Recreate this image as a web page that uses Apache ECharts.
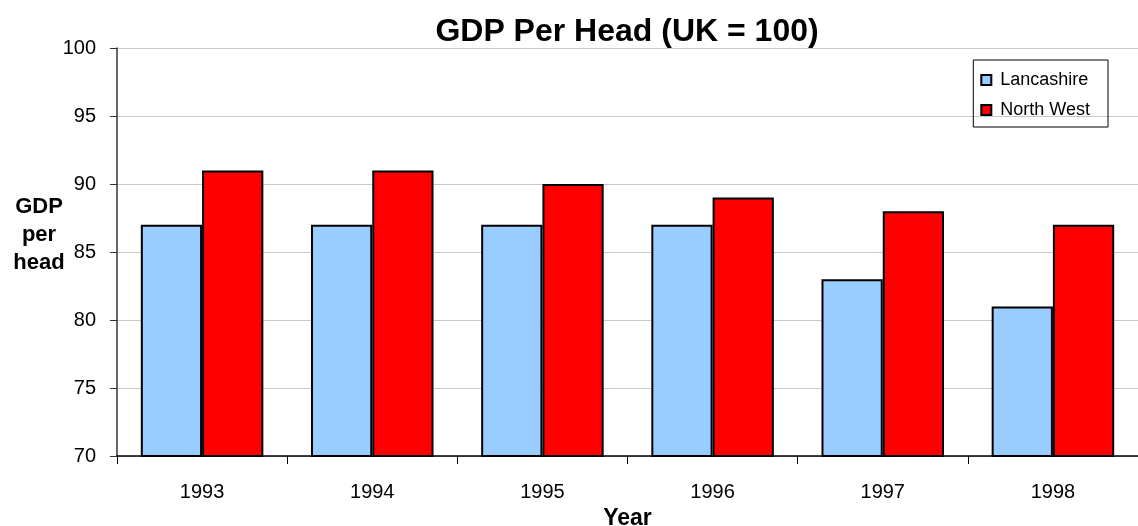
<!DOCTYPE html>
<html>
<head>
<meta charset="utf-8">
<script src="https://cdn.jsdelivr.net/npm/echarts@6/dist/echarts.min.js"></script>
<style>
  html, body { margin: 0; padding: 0; background: #fff; }
  #chart { width: 1138px; height: 526px; }
</style>
</head>
<body>
<div id="chart"></div>
<script>
const years = ["1993", "1994", "1995", "1996", "1997", "1998"];
const lancashire = [87, 87, 87, 87, 83, 81];
const northWest = [91, 91, 90, 89, 88, 87];

const chart = echarts.init(document.getElementById("chart"));
const font = "Liberation Sans, Arial, sans-serif";

chart.setOption({
  animation: false,
  textStyle: { fontFamily: font },
  title: [
    {
      text: "GDP Per Head (UK = 100)",
      left: 622,
      textAlign: "center",
      top: 11,
      textStyle: { fontSize: 32, fontWeight: "bold", color: "#000", fontFamily: font },
    },
    {
      // y axis name, placed as in the original (above the middle of the axis)
      text: "GDP\nper\nhead",
      left: 34,
      textAlign: "center",
      top: 188,
      textStyle: { fontSize: 22, fontWeight: "bold", color: "#000", lineHeight: 28, fontFamily: font },
    },
  ],
  legend: {
    data: ["Lancashire", "North West"],
    orient: "vertical",
    right: 30,
    top: 60,
    padding: [11, 18, 8, 7],
    itemGap: 12,
    itemWidth: 10,
    itemHeight: 10,
    icon: "rect",
    borderColor: "#000",
    borderWidth: 1,
    textStyle: { fontSize: 18, color: "#000", fontFamily: font, padding: [0, 0, 0, 4] },
  },
  grid: { left: 117, right: 0, top: 48, bottom: 70, outerBoundsMode: "none", containLabel: false },
  xAxis: {
    type: "category",
    data: years,
    name: "Year",
    nameLocation: "middle",
    nameGap: 48,
    nameTextStyle: { fontSize: 23, fontWeight: "bold", color: "#000" },
    axisLine: { lineStyle: { color: "#000", width: 1.5 } },
    axisTick: { show: true, length: 8, lineStyle: { color: "#000" } },
    axisLabel: { fontSize: 20, color: "#000", margin: 26 },
  },
  yAxis: {
    type: "value",
    min: 70,
    max: 100,
    interval: 5,
    axisLine: { show: true, lineStyle: { color: "#333", width: 1.5 } },
    axisTick: { show: true, length: 7, lineStyle: { color: "#333" } },
    axisLabel: { fontSize: 20, color: "#000", margin: 21 },
    splitLine: { lineStyle: { color: "#c8c8c8", width: 1 } },
  },
  series: [
    {
      name: "Lancashire",
      type: "bar",
      data: lancashire,
      barWidth: "36%",
      barGap: "0%",
      itemStyle: { color: "#99ccff", borderColor: "#000", borderWidth: 2 },
    },
    {
      name: "North West",
      type: "bar",
      data: northWest,
      barWidth: "36%",
      barGap: "0%",
      itemStyle: { color: "#ff0000", borderColor: "#000", borderWidth: 2 },
    },
  ],
});
</script>
</body>
</html>
